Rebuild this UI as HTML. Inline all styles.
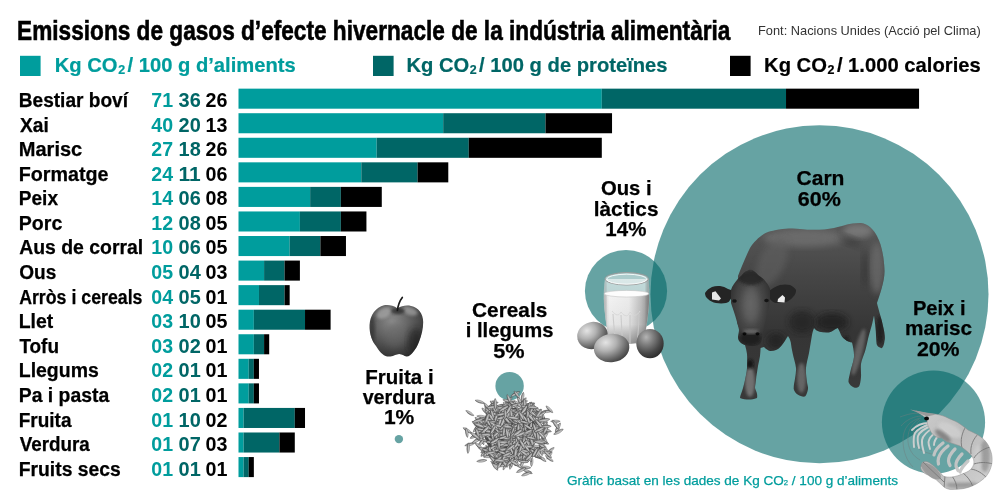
<!DOCTYPE html>
<html lang="ca"><head><meta charset="utf-8"><title>Emissions de gasos d’efecte hivernacle</title>
<style>
html,body{margin:0;padding:0;background:#fff}
body{width:1000px;height:500px;overflow:hidden}
svg{display:block}
text{font-family:"Liberation Sans",Arial,Helvetica,sans-serif}
</style></head><body>
<svg width="1000" height="500" viewBox="0 0 1000 500">
<circle cx="819.5" cy="294.3" r="169" fill="#006666" fill-opacity="0.6"/>
<circle cx="626" cy="291" r="41.1" fill="#006666" fill-opacity="0.6"/>
<circle cx="933.5" cy="422.2" r="51.6" fill="#006666" fill-opacity="0.6"/>
<circle cx="509.6" cy="386.1" r="14.2" fill="#006666" fill-opacity="0.6"/>
<circle cx="398.9" cy="439.1" r="4.2" fill="#006666" fill-opacity="0.6"/>
<rect x="20" y="55.8" width="20.6" height="20.2" fill="#009d9d"/>
<rect x="373" y="55.8" width="20.6" height="20.2" fill="#006666"/>
<rect x="730" y="55.8" width="20.6" height="20.2" fill="#000"/>
<text x="151.25" y="107.00" font-size="19.8" font-weight="700" fill="#009d9d" textLength="21.77" lengthAdjust="spacingAndGlyphs">71</text>
<text x="178.60" y="107.00" font-size="19.8" font-weight="700" fill="#006666" textLength="22.19" lengthAdjust="spacingAndGlyphs">36</text>
<text x="205.60" y="107.00" font-size="19.8" font-weight="700" fill="#000" textLength="21.92" lengthAdjust="spacingAndGlyphs">26</text>
<rect x="238.50" y="88.65" width="363.31" height="20.05" fill="#009d9d"/>
<rect x="601.81" y="88.65" width="184.21" height="20.05" fill="#006666"/>
<rect x="786.02" y="88.65" width="133.04" height="20.05" fill="#000"/>
<text x="151.25" y="132.00" font-size="19.8" font-weight="700" fill="#009d9d" textLength="21.77" lengthAdjust="spacingAndGlyphs">40</text>
<text x="178.60" y="132.00" font-size="19.8" font-weight="700" fill="#006666" textLength="22.19" lengthAdjust="spacingAndGlyphs">20</text>
<text x="205.60" y="132.00" font-size="19.8" font-weight="700" fill="#000" textLength="21.92" lengthAdjust="spacingAndGlyphs">13</text>
<rect x="238.50" y="113.21" width="204.68" height="20.05" fill="#009d9d"/>
<rect x="443.18" y="113.21" width="102.34" height="20.05" fill="#006666"/>
<rect x="545.52" y="113.21" width="66.52" height="20.05" fill="#000"/>
<text x="151.25" y="156.00" font-size="19.8" font-weight="700" fill="#009d9d" textLength="21.77" lengthAdjust="spacingAndGlyphs">27</text>
<text x="178.60" y="156.00" font-size="19.8" font-weight="700" fill="#006666" textLength="22.19" lengthAdjust="spacingAndGlyphs">18</text>
<text x="205.60" y="156.00" font-size="19.8" font-weight="700" fill="#000" textLength="21.92" lengthAdjust="spacingAndGlyphs">26</text>
<rect x="238.50" y="137.77" width="138.16" height="20.05" fill="#009d9d"/>
<rect x="376.66" y="137.77" width="92.11" height="20.05" fill="#006666"/>
<rect x="468.76" y="137.77" width="133.04" height="20.05" fill="#000"/>
<text x="151.25" y="181.00" font-size="19.8" font-weight="700" fill="#009d9d" textLength="21.77" lengthAdjust="spacingAndGlyphs">24</text>
<text x="178.60" y="181.00" font-size="19.8" font-weight="700" fill="#006666" textLength="22.19" lengthAdjust="spacingAndGlyphs">11</text>
<text x="205.60" y="181.00" font-size="19.8" font-weight="700" fill="#000" textLength="21.92" lengthAdjust="spacingAndGlyphs">06</text>
<rect x="238.50" y="162.33" width="122.81" height="20.05" fill="#009d9d"/>
<rect x="361.31" y="162.33" width="56.29" height="20.05" fill="#006666"/>
<rect x="417.59" y="162.33" width="30.70" height="20.05" fill="#000"/>
<text x="151.25" y="205.00" font-size="19.8" font-weight="700" fill="#009d9d" textLength="21.77" lengthAdjust="spacingAndGlyphs">14</text>
<text x="178.60" y="205.00" font-size="19.8" font-weight="700" fill="#006666" textLength="22.19" lengthAdjust="spacingAndGlyphs">06</text>
<text x="205.60" y="205.00" font-size="19.8" font-weight="700" fill="#000" textLength="21.92" lengthAdjust="spacingAndGlyphs">08</text>
<rect x="238.50" y="186.89" width="71.64" height="20.05" fill="#009d9d"/>
<rect x="310.14" y="186.89" width="30.70" height="20.05" fill="#006666"/>
<rect x="340.84" y="186.89" width="40.94" height="20.05" fill="#000"/>
<text x="151.25" y="230.00" font-size="19.8" font-weight="700" fill="#009d9d" textLength="21.77" lengthAdjust="spacingAndGlyphs">12</text>
<text x="178.60" y="230.00" font-size="19.8" font-weight="700" fill="#006666" textLength="22.19" lengthAdjust="spacingAndGlyphs">08</text>
<text x="205.60" y="230.00" font-size="19.8" font-weight="700" fill="#000" textLength="21.92" lengthAdjust="spacingAndGlyphs">05</text>
<rect x="238.50" y="211.45" width="61.40" height="20.05" fill="#009d9d"/>
<rect x="299.90" y="211.45" width="40.94" height="20.05" fill="#006666"/>
<rect x="340.84" y="211.45" width="25.59" height="20.05" fill="#000"/>
<text x="151.25" y="254.00" font-size="19.8" font-weight="700" fill="#009d9d" textLength="21.77" lengthAdjust="spacingAndGlyphs">10</text>
<text x="178.60" y="254.00" font-size="19.8" font-weight="700" fill="#006666" textLength="22.19" lengthAdjust="spacingAndGlyphs">06</text>
<text x="205.60" y="254.00" font-size="19.8" font-weight="700" fill="#000" textLength="21.92" lengthAdjust="spacingAndGlyphs">05</text>
<rect x="238.50" y="236.01" width="51.17" height="20.05" fill="#009d9d"/>
<rect x="289.67" y="236.01" width="30.70" height="20.05" fill="#006666"/>
<rect x="320.37" y="236.01" width="25.59" height="20.05" fill="#000"/>
<text x="151.25" y="279.00" font-size="19.8" font-weight="700" fill="#009d9d" textLength="21.77" lengthAdjust="spacingAndGlyphs">05</text>
<text x="178.60" y="279.00" font-size="19.8" font-weight="700" fill="#006666" textLength="22.19" lengthAdjust="spacingAndGlyphs">04</text>
<text x="205.60" y="279.00" font-size="19.8" font-weight="700" fill="#000" textLength="21.92" lengthAdjust="spacingAndGlyphs">03</text>
<rect x="238.50" y="260.57" width="25.59" height="20.05" fill="#009d9d"/>
<rect x="264.08" y="260.57" width="20.47" height="20.05" fill="#006666"/>
<rect x="284.55" y="260.57" width="15.35" height="20.05" fill="#000"/>
<text x="151.25" y="304.00" font-size="19.8" font-weight="700" fill="#009d9d" textLength="21.77" lengthAdjust="spacingAndGlyphs">04</text>
<text x="178.60" y="304.00" font-size="19.8" font-weight="700" fill="#006666" textLength="22.19" lengthAdjust="spacingAndGlyphs">05</text>
<text x="205.60" y="304.00" font-size="19.8" font-weight="700" fill="#000" textLength="21.92" lengthAdjust="spacingAndGlyphs">01</text>
<rect x="238.50" y="285.13" width="20.47" height="20.05" fill="#009d9d"/>
<rect x="258.97" y="285.13" width="25.59" height="20.05" fill="#006666"/>
<rect x="284.55" y="285.13" width="5.12" height="20.05" fill="#000"/>
<text x="151.25" y="328.00" font-size="19.8" font-weight="700" fill="#009d9d" textLength="21.77" lengthAdjust="spacingAndGlyphs">03</text>
<text x="178.60" y="328.00" font-size="19.8" font-weight="700" fill="#006666" textLength="22.19" lengthAdjust="spacingAndGlyphs">10</text>
<text x="205.60" y="328.00" font-size="19.8" font-weight="700" fill="#000" textLength="21.92" lengthAdjust="spacingAndGlyphs">05</text>
<rect x="238.50" y="309.69" width="15.35" height="20.05" fill="#009d9d"/>
<rect x="253.85" y="309.69" width="51.17" height="20.05" fill="#006666"/>
<rect x="305.02" y="309.69" width="25.59" height="20.05" fill="#000"/>
<text x="151.25" y="353.00" font-size="19.8" font-weight="700" fill="#009d9d" textLength="21.77" lengthAdjust="spacingAndGlyphs">03</text>
<text x="178.60" y="353.00" font-size="19.8" font-weight="700" fill="#006666" textLength="22.19" lengthAdjust="spacingAndGlyphs">02</text>
<text x="205.60" y="353.00" font-size="19.8" font-weight="700" fill="#000" textLength="21.92" lengthAdjust="spacingAndGlyphs">01</text>
<rect x="238.50" y="334.25" width="15.35" height="20.05" fill="#009d9d"/>
<rect x="253.85" y="334.25" width="10.23" height="20.05" fill="#006666"/>
<rect x="264.08" y="334.25" width="5.12" height="20.05" fill="#000"/>
<text x="151.25" y="377.00" font-size="19.8" font-weight="700" fill="#009d9d" textLength="21.77" lengthAdjust="spacingAndGlyphs">02</text>
<text x="178.60" y="377.00" font-size="19.8" font-weight="700" fill="#006666" textLength="22.19" lengthAdjust="spacingAndGlyphs">01</text>
<text x="205.60" y="377.00" font-size="19.8" font-weight="700" fill="#000" textLength="21.92" lengthAdjust="spacingAndGlyphs">01</text>
<rect x="238.50" y="358.81" width="10.23" height="20.05" fill="#009d9d"/>
<rect x="248.73" y="358.81" width="5.12" height="20.05" fill="#006666"/>
<rect x="253.85" y="358.81" width="5.12" height="20.05" fill="#000"/>
<text x="151.25" y="402.00" font-size="19.8" font-weight="700" fill="#009d9d" textLength="21.77" lengthAdjust="spacingAndGlyphs">02</text>
<text x="178.60" y="402.00" font-size="19.8" font-weight="700" fill="#006666" textLength="22.19" lengthAdjust="spacingAndGlyphs">01</text>
<text x="205.60" y="402.00" font-size="19.8" font-weight="700" fill="#000" textLength="21.92" lengthAdjust="spacingAndGlyphs">01</text>
<rect x="238.50" y="383.37" width="10.23" height="20.05" fill="#009d9d"/>
<rect x="248.73" y="383.37" width="5.12" height="20.05" fill="#006666"/>
<rect x="253.85" y="383.37" width="5.12" height="20.05" fill="#000"/>
<text x="151.25" y="427.00" font-size="19.8" font-weight="700" fill="#009d9d" textLength="21.77" lengthAdjust="spacingAndGlyphs">01</text>
<text x="178.60" y="427.00" font-size="19.8" font-weight="700" fill="#006666" textLength="22.19" lengthAdjust="spacingAndGlyphs">10</text>
<text x="205.60" y="427.00" font-size="19.8" font-weight="700" fill="#000" textLength="21.92" lengthAdjust="spacingAndGlyphs">02</text>
<rect x="238.50" y="407.93" width="5.12" height="20.05" fill="#009d9d"/>
<rect x="243.62" y="407.93" width="51.17" height="20.05" fill="#006666"/>
<rect x="294.79" y="407.93" width="10.23" height="20.05" fill="#000"/>
<text x="151.25" y="451.00" font-size="19.8" font-weight="700" fill="#009d9d" textLength="21.77" lengthAdjust="spacingAndGlyphs">01</text>
<text x="178.60" y="451.00" font-size="19.8" font-weight="700" fill="#006666" textLength="22.19" lengthAdjust="spacingAndGlyphs">07</text>
<text x="205.60" y="451.00" font-size="19.8" font-weight="700" fill="#000" textLength="21.92" lengthAdjust="spacingAndGlyphs">03</text>
<rect x="238.50" y="432.49" width="5.12" height="20.05" fill="#009d9d"/>
<rect x="243.62" y="432.49" width="35.82" height="20.05" fill="#006666"/>
<rect x="279.44" y="432.49" width="15.35" height="20.05" fill="#000"/>
<text x="151.25" y="476.00" font-size="19.8" font-weight="700" fill="#009d9d" textLength="21.77" lengthAdjust="spacingAndGlyphs">01</text>
<text x="178.60" y="476.00" font-size="19.8" font-weight="700" fill="#006666" textLength="22.19" lengthAdjust="spacingAndGlyphs">01</text>
<text x="205.60" y="476.00" font-size="19.8" font-weight="700" fill="#000" textLength="21.92" lengthAdjust="spacingAndGlyphs">01</text>
<rect x="238.50" y="457.05" width="5.12" height="20.05" fill="#009d9d"/>
<rect x="243.62" y="457.05" width="5.12" height="20.05" fill="#006666"/>
<rect x="248.73" y="457.05" width="5.12" height="20.05" fill="#000"/>
<defs>
<linearGradient id="cowg" x1="0" y1="0" x2="0" y2="1"><stop offset="0" stop-color="#585858"/><stop offset=".3" stop-color="#464646"/><stop offset=".62" stop-color="#353535"/><stop offset="1" stop-color="#393939"/></linearGradient>
<radialGradient id="faceg" cx=".5" cy=".45" r=".6"><stop offset="0" stop-color="#5e5e5e"/><stop offset=".6" stop-color="#434343"/><stop offset="1" stop-color="#2c2c2c"/></radialGradient>
<filter id="bl3" x="-20%" y="-20%" width="140%" height="140%"><feGaussianBlur stdDeviation="3"/></filter>
<filter id="bl05" x="-50%" y="-50%" width="200%" height="200%"><feGaussianBlur stdDeviation=".6"/></filter>
<filter id="bl15" x="-20%" y="-20%" width="140%" height="140%"><feGaussianBlur stdDeviation="1.5"/></filter>
<clipPath id="cowclip"><path id="cowbody" d="M738,276C741,268 746,256 750,248C754,241 762,234 768,232C776,229.5 790,227.5 800,229C812,230.5 824,230 834,228C842,226 852,222.5 861,223C868,223.5 874,230 877,236C881,243 884,256 884.5,270C885,280 880,294 877,303C878,308 882,320 883,326C884.5,332 885.5,338 884.5,341C884,346 882,349 881,348C878.5,347 877,346 876.6,344C876,338 876,332 875.5,328C875,324 874.5,319 874,315.5L872,324.5C870.5,330 869,335 868,339C867,344 866,348 865,351.5C863.5,356 861.5,360 861,364C860.5,368 861.3,373 861,377C860.7,381 860,385 859,386.5C857.5,388 855.5,388 854,387.6C851.5,386.5 849,384 848.5,382C848.3,379 849.5,376 850,373C851,368 853.5,362 854,357C854.3,352 853,347 852,342.5C850,342 848,341.5 846.7,340.7C844,339 842,337 841,335C840,332 838.5,329 837.7,328C836,328.5 835,329.5 834,330C832,331.5 830,332.4 828.6,332.4C825,332.6 822,332.3 819.6,331.7C817,331 815,329.5 814,328C813,330 812.5,333 812,335C811,341 810,347 809,353C808,358 806.5,363 806,368C805.7,373 806.5,378 807,382C807.3,384.5 808.3,387 808,389C807.5,392 806.5,395 805,396.6C802.5,397 800,396 798,394.8C796,393.5 794,391 793.7,389C793.5,385.5 794.5,382 795,378.5C795.5,375 796.3,371.5 796,368C795.5,363 793.5,358 792.6,353C791.8,349.5 791.2,346 790.8,342.6C790,339 789,337.5 788,336C786,339 784,342.5 782,345C780,347.5 778,349.5 776,350C774,350.8 772,351.2 770,351C768,350.5 766,349 764,347L760.6,348C760.5,350.5 760.3,353 760,356C759.5,359.5 758.5,363 758,366C757.3,371 756.3,376 756,380C755.7,383 755,386 755,388C755.5,390 756.8,392 757,394C757.3,395.5 757.3,397 757,398C754,399.3 751.5,399.6 749,399.6C746,399.6 742.5,399 740,398C740,396.5 740.5,395.2 741,394C741.7,392 742.5,390 743,388C743.7,385.5 744.5,382.5 745,380C745.8,376 746.8,372 747,368C747.2,363 747.3,358 747,354C746.7,351 745.8,348 745,345L737,322Z"/></clipPath>
<clipPath id="headclip"><path id="cowhead" d="M731,290C732,286 735,282.5 737,280C739,277.5 741,276 742,275C744,272.5 745.5,271 747,271C749,269.5 750.5,269.5 752,270C754.5,271 756.5,273 758,275C761,277 764,279 766,282C768,284.5 769.5,287 770,289L770,299C769.5,305 768,311 766.5,317C765,323 763,331 762,338C761.5,341 761,343 760,344C758,345.5 756,346 754,346C751,346.3 748,346 745,345C743,344.3 741,343.2 740,342C738.5,340.5 737.8,338.5 738,337C738.2,334.5 739,332 739,330C738.5,327 737.5,324.5 737,322C736,318.5 735,315 734,312C733,309 732,306 731,303Z"/></clipPath>
</defs>
<g id="cow">
<use href="#cowbody" fill="url(#cowg)"/>
<g clip-path="url(#cowclip)">
<ellipse cx="805" cy="238" rx="42" ry="9" fill="#7a7a7a" opacity=".6" filter="url(#bl3)"/>
<ellipse cx="858" cy="231" rx="15" ry="7" fill="#8a8a8a" opacity=".65" filter="url(#bl3)"/>
<ellipse cx="877" cy="268" rx="7" ry="26" fill="#707070" opacity=".7" filter="url(#bl3)"/>
<ellipse cx="772" cy="262" rx="13" ry="26" fill="#626262" opacity=".6" filter="url(#bl3)" transform="rotate(25 772 262)"/>
<ellipse cx="850" cy="241" rx="12" ry="5" fill="#2e2e2e" opacity=".35" filter="url(#bl3)" transform="rotate(20 850 240)"/>
<ellipse cx="865" cy="268" rx="3.500" ry="18" fill="#262626" opacity=".35" filter="url(#bl3)"/>
<ellipse cx="832" cy="322" rx="16" ry="9" fill="#1c1c1c" opacity=".75" filter="url(#bl3)"/>
<ellipse cx="802" cy="322" rx="13" ry="11" fill="#202020" opacity=".7" filter="url(#bl3)"/>
<ellipse cx="846" cy="345" rx="4" ry="10" fill="#1a1a1a" opacity=".7" filter="url(#bl15)"/>
<ellipse cx="858.500" cy="352" rx="4" ry="24" fill="#777" opacity=".7" filter="url(#bl15)" transform="rotate(14 858.500 352)"/>
<ellipse cx="801.500" cy="378" rx="4.500" ry="15" fill="#757575" opacity=".75" filter="url(#bl15)"/>
<ellipse cx="750" cy="382" rx="5" ry="15" fill="#7c7c7c" opacity=".85" filter="url(#bl15)"/>
<ellipse cx="750" cy="364" rx="3.500" ry="4.500" fill="#111" opacity=".8" filter="url(#bl15)"/>
<ellipse cx="776" cy="341" rx="9" ry="8" fill="#1e1e1e" opacity=".65" filter="url(#bl3)"/>
<ellipse cx="880" cy="330" rx="3.500" ry="14" fill="#1a1a1a" opacity=".8" filter="url(#bl15)"/>
</g>
<path d="M731,290C730,289.5 729,289.3 728,289C725.5,287.5 723,286.3 720,286C717,285.8 714.5,286 712,287C709,288.3 706.5,290.5 705,293C705,295.5 706,297.5 708,299C710,301 713,302.5 716,303C719.5,303.5 723,303.5 726,303C728,302.5 729.5,301.5 730,300L733,296Z" fill="#242424"/>
<path d="M769,291C773,288 776.500,286 780,285C783.500,284.300 787,284.300 790,285C792.500,286 795,288 796,290C796.300,292.500 795,295 793,297C791,299.500 788.500,301 786,302C783,303 779.500,303.300 776,303C773.500,302.500 771.500,301 769,298Z" fill="#262626"/>
<path d="M712,292.500L715.500,291.200L721,298.500L719,300.500L712,299.500Z" fill="#e6e6e6"/>
<path d="M778,299L782.500,295L785,297.500L784.500,302.500L777.500,302Z" fill="#ededed"/>
<use href="#cowhead" fill="url(#faceg)"/>
<g clip-path="url(#headclip)">
<ellipse cx="751" cy="305" rx="8" ry="18" fill="#6a6a6a" opacity=".55" filter="url(#bl3)"/>
<ellipse cx="751" cy="278" rx="13" ry="7" fill="#222" opacity=".75" filter="url(#bl15)"/>
<ellipse cx="750.500" cy="338" rx="11" ry="7.500" fill="#1d1d1d" opacity=".85" filter="url(#bl15)"/>
<ellipse cx="751" cy="331.500" rx="8" ry="2.500" fill="#777" opacity=".8" filter="url(#bl15)"/>
<ellipse cx="744.500" cy="333.800" rx="2" ry="1.600" fill="#000" opacity=".8" filter="url(#bl05)"/>
<ellipse cx="757.500" cy="333.800" rx="2" ry="1.600" fill="#000" opacity=".8" filter="url(#bl05)"/>
<ellipse cx="734.500" cy="301" rx="2.200" ry="1.800" fill="#0c0c0c" opacity=".85" filter="url(#bl05)"/>
<ellipse cx="766.500" cy="300.500" rx="2.200" ry="1.800" fill="#0c0c0c" opacity=".85" filter="url(#bl05)"/>
</g>
</g>
<defs>
<radialGradient id="appleg" cx=".42" cy=".32" r=".75"><stop offset="0" stop-color="#8c8c8c"/><stop offset=".45" stop-color="#606060"/><stop offset=".85" stop-color="#3a3a3a"/><stop offset="1" stop-color="#2a2a2a"/></radialGradient>
<clipPath id="appleclip"><path id="applep" d="M397.6,308.4C393,305 388,304.5 384,305.2C376,307 370,315 369.6,325C369.3,334 372,341 376,346C378.5,350 380.5,352.5 382.4,354C385,356.5 388,356.8 390.4,356.4C394,356 396.5,354.2 399.2,354C402,354.2 404,356 406.4,356.4C409,356.6 411,354.5 412.8,352.4C415.5,349.5 417.5,345.5 419.2,341.2C421.5,335.5 423.2,329 423.2,322C423.2,314 418.5,307.5 411,306C406,305 401.5,306 397.6,308.4Z"/></clipPath>
</defs>
<g id="apple">
<use href="#applep" fill="url(#appleg)"/>
<g clip-path="url(#appleclip)">
<ellipse cx="384" cy="313" rx="8" ry="5" fill="#aaa" opacity=".7" filter="url(#bl15)" transform="rotate(-30 384 313)"/>
<ellipse cx="410" cy="311" rx="8" ry="4" fill="#a5a5a5" opacity=".7" filter="url(#bl15)" transform="rotate(20 410 311)"/>
<ellipse cx="398" cy="311" rx="7" ry="3" fill="#222" opacity=".7" filter="url(#bl15)"/>
<ellipse cx="416" cy="342" rx="8" ry="14" fill="#1e1e1e" opacity=".6" filter="url(#bl3)"/>
<ellipse cx="372" cy="330" rx="3" ry="14" fill="#2a2a2a" opacity=".6" filter="url(#bl15)"/>
<ellipse cx="395" cy="335" rx="10" ry="12" fill="#666" opacity=".45" filter="url(#bl3)"/>
</g>
<path d="M397.400,310.500C398,305.500 399.500,301 402.300,297.400" fill="none" stroke="#1a1a1a" stroke-width="1.700" stroke-linecap="round"/>
</g>
<defs>
<radialGradient id="eggg" cx=".36" cy=".28" r=".85"><stop offset="0" stop-color="#e4e4e4"/><stop offset=".35" stop-color="#b2b2b2"/><stop offset=".7" stop-color="#686868"/><stop offset="1" stop-color="#2c2c2c"/></radialGradient>
<radialGradient id="eggd" cx=".36" cy=".28" r=".85"><stop offset="0" stop-color="#b4b4b4"/><stop offset=".3" stop-color="#808080"/><stop offset=".65" stop-color="#484848"/><stop offset="1" stop-color="#1e1e1e"/></radialGradient>
<linearGradient id="milkg" x1="0" y1="0" x2="1" y2="0"><stop offset="0" stop-color="#d6d6d6"/><stop offset=".12" stop-color="#fafafa"/><stop offset=".55" stop-color="#f3f3f3"/><stop offset=".82" stop-color="#c6c6c6"/><stop offset="1" stop-color="#939393"/></linearGradient>
<linearGradient id="milkv" x1="0" y1="0" x2="0" y2="1"><stop offset="0" stop-color="#000" stop-opacity="0"/><stop offset=".7" stop-color="#000" stop-opacity=".08"/><stop offset="1" stop-color="#000" stop-opacity=".38"/></linearGradient>
<clipPath id="glclip"><path id="glp" d="M605,279C604,286 603.600,293 603.800,300C604.300,312 606.500,328 609,341.500C613,344.800 640,344.800 644,341.500C646.500,328 648.800,312 649.300,300C649.500,293 649.200,286 648.500,279Z"/></clipPath>
</defs>
<g id="dairy">
<use href="#glp" fill="#fff" fill-opacity=".6"/>
<path d="M604.400,293.500C604.100,296 603.900,298 604,300C604.500,312 606.700,328 609.200,341C613,344.200 640,344.200 643.800,341C646.300,328 648.600,312 649.100,300C649.200,298 649.100,296 648.800,293.500C640,297 613,297 604.400,293.500Z" fill="url(#milkg)"/>
<use href="#glp" fill="url(#milkv)"/>
<g clip-path="url(#glclip)">
<g stroke="#c9c9c9" stroke-width="1.100" opacity=".9" fill="none">
<path d="M613,314C613.500,322 614.500,334 616,343"/><path d="M621,315L622.500,344"/><path d="M630,315L630,344"/><path d="M639,314C638.800,322 638.200,334 637,343"/>
</g>
<path d="M612,311C616,316 619,316 621,312M621,312C625,317 628,317 630,312M630,312C634,317 637,316 640,311" stroke="#d6d6d6" stroke-width=".9" fill="none"/>
<rect x="603" y="272" width="3.200" height="72" fill="#8a8a8a" opacity=".45" filter="url(#bl15)"/>
<rect x="646.500" y="272" width="3.500" height="72" fill="#6a6a6a" opacity=".5" filter="url(#bl15)"/>
</g>
<ellipse cx="626.500" cy="293.700" rx="22.200" ry="3.300" fill="#fdfdfd" stroke="#c4c4c4" stroke-width=".6"/>
<ellipse cx="626.700" cy="278.800" rx="21.700" ry="6.200" fill="#f2f6f6" fill-opacity=".5" stroke="#9a9a9a" stroke-width="1"/>
<ellipse cx="626.700" cy="279.200" rx="20" ry="5" fill="none" stroke="#fff" stroke-width=".9" opacity=".95"/>
<!-- eggs -->
<ellipse cx="650" cy="343.600" rx="13.700" ry="14.700" fill="url(#eggd)"/>
<ellipse cx="592.500" cy="335.500" rx="15.400" ry="13.500" fill="url(#eggg)" transform="rotate(-14 592.5 335.500)"/>
<ellipse cx="611.600" cy="348" rx="17.800" ry="14.200" fill="url(#eggg)" transform="rotate(-8 611.600 348)"/>
</g>
<defs><linearGradient id="grg" x1="0" y1="0" x2="0" y2="1"><stop offset="0" stop-color="#e6e6e6"/><stop offset=".5" stop-color="#b6b6b6"/><stop offset="1" stop-color="#707070"/></linearGradient><path id="gr" d="M-5.700,0C-3.400,-1.900 3.400,-1.900 5.700,0C3.400,1.900 -3.400,1.900 -5.700,0Z" fill="url(#grg)" stroke="#3a3a3a" stroke-width=".45"/></defs><g id="grains"><ellipse cx="511" cy="432.5" rx="27" ry="25" fill="#4e4e4e"/><use href="#gr" transform="translate(469.7,444.4) rotate(166) scale(0.89)"/><use href="#gr" transform="translate(467.5,430.5) rotate(33) scale(0.90)"/><use href="#gr" transform="translate(479.8,401.7) rotate(17) scale(0.86)"/><use href="#gr" transform="translate(549.5,455.4) rotate(125) scale(0.81)"/><use href="#gr" transform="translate(557.9,427.6) rotate(118) scale(0.92)"/><use href="#gr" transform="translate(531.8,462.0) rotate(95) scale(0.81)"/><use href="#gr" transform="translate(525.7,467.3) rotate(5) scale(0.89)"/><use href="#gr" transform="translate(468.2,448.1) rotate(93) scale(0.93)"/><use href="#gr" transform="translate(466.8,432.6) rotate(82) scale(0.86)"/><use href="#gr" transform="translate(558.5,431.8) rotate(151) scale(0.94)"/><use href="#gr" transform="translate(495.0,466.7) rotate(52) scale(0.81)"/><use href="#gr" transform="translate(515.3,393.9) rotate(152) scale(0.88)"/><use href="#gr" transform="translate(555.4,421.3) rotate(0) scale(0.84)"/><use href="#gr" transform="translate(546.8,411.4) rotate(176) scale(0.88)"/><use href="#gr" transform="translate(550.4,450.6) rotate(140) scale(0.85)"/><use href="#gr" transform="translate(546.0,452.4) rotate(174) scale(0.95)"/><use href="#gr" transform="translate(540.6,457.8) rotate(18) scale(0.81)"/><use href="#gr" transform="translate(522.5,397.3) rotate(101) scale(0.89)"/><use href="#gr" transform="translate(527.4,471.4) rotate(24) scale(0.93)"/><use href="#gr" transform="translate(542.2,458.6) rotate(38) scale(0.85)"/><use href="#gr" transform="translate(555.9,424.8) rotate(55) scale(0.98)"/><use href="#gr" transform="translate(521.2,470.1) rotate(154) scale(0.93)"/><use href="#gr" transform="translate(549.3,458.5) rotate(38) scale(0.85)"/><use href="#gr" transform="translate(516.8,394.7) rotate(53) scale(0.81)"/><use href="#gr" transform="translate(547.7,454.2) rotate(44) scale(0.92)"/><use href="#gr" transform="translate(481.8,460.8) rotate(173) scale(0.90)"/><use href="#gr" transform="translate(469.8,413.1) rotate(33) scale(0.83)"/><use href="#gr" transform="translate(549.4,409.3) rotate(45) scale(0.84)"/><use href="#gr" transform="translate(526.5,473.8) rotate(159) scale(0.92)"/><use href="#gr" transform="translate(503.2,436.4) rotate(7) scale(1.04)"/><use href="#gr" transform="translate(513.1,459.4) rotate(46) scale(1.01)"/><use href="#gr" transform="translate(497.2,423.6) rotate(32) scale(0.99)"/><use href="#gr" transform="translate(524.1,438.1) rotate(101) scale(1.02)"/><use href="#gr" transform="translate(498.7,422.5) rotate(165) scale(0.89)"/><use href="#gr" transform="translate(526.9,434.0) rotate(80) scale(0.86)"/><use href="#gr" transform="translate(519.7,448.6) rotate(103) scale(0.88)"/><use href="#gr" transform="translate(489.3,456.3) rotate(176) scale(0.98)"/><use href="#gr" transform="translate(501.7,410.1) rotate(25) scale(0.86)"/><use href="#gr" transform="translate(544.7,436.0) rotate(126) scale(1.04)"/><use href="#gr" transform="translate(538.0,435.9) rotate(87) scale(1.00)"/><use href="#gr" transform="translate(495.9,462.9) rotate(14) scale(0.96)"/><use href="#gr" transform="translate(508.2,401.2) rotate(133) scale(0.99)"/><use href="#gr" transform="translate(520.1,402.0) rotate(63) scale(0.99)"/><use href="#gr" transform="translate(537.8,414.6) rotate(75) scale(1.01)"/><use href="#gr" transform="translate(527.7,414.6) rotate(112) scale(0.93)"/><use href="#gr" transform="translate(488.0,420.3) rotate(14) scale(0.98)"/><use href="#gr" transform="translate(544.2,431.2) rotate(131) scale(0.93)"/><use href="#gr" transform="translate(508.6,408.7) rotate(79) scale(1.02)"/><use href="#gr" transform="translate(537.0,446.6) rotate(5) scale(0.97)"/><use href="#gr" transform="translate(496.6,434.1) rotate(126) scale(0.95)"/><use href="#gr" transform="translate(485.3,411.5) rotate(46) scale(0.85)"/><use href="#gr" transform="translate(502.1,457.5) rotate(36) scale(0.88)"/><use href="#gr" transform="translate(534.1,418.0) rotate(80) scale(1.03)"/><use href="#gr" transform="translate(498.0,455.6) rotate(36) scale(0.94)"/><use href="#gr" transform="translate(522.7,402.8) rotate(158) scale(0.93)"/><use href="#gr" transform="translate(495.7,424.3) rotate(25) scale(0.95)"/><use href="#gr" transform="translate(527.9,406.7) rotate(128) scale(1.04)"/><use href="#gr" transform="translate(509.0,443.5) rotate(81) scale(0.91)"/><use href="#gr" transform="translate(515.7,451.4) rotate(113) scale(0.95)"/><use href="#gr" transform="translate(498.1,460.0) rotate(177) scale(0.94)"/><use href="#gr" transform="translate(514.8,434.3) rotate(157) scale(0.86)"/><use href="#gr" transform="translate(504.5,409.6) rotate(56) scale(1.01)"/><use href="#gr" transform="translate(521.4,433.7) rotate(82) scale(0.85)"/><use href="#gr" transform="translate(518.1,420.4) rotate(25) scale(0.86)"/><use href="#gr" transform="translate(496.0,417.8) rotate(113) scale(0.98)"/><use href="#gr" transform="translate(523.4,402.0) rotate(123) scale(0.89)"/><use href="#gr" transform="translate(498.8,434.3) rotate(2) scale(0.94)"/><use href="#gr" transform="translate(508.2,421.3) rotate(49) scale(0.92)"/><use href="#gr" transform="translate(503.2,411.4) rotate(111) scale(1.00)"/><use href="#gr" transform="translate(486.6,450.5) rotate(163) scale(0.87)"/><use href="#gr" transform="translate(537.8,421.2) rotate(23) scale(0.94)"/><use href="#gr" transform="translate(487.1,410.1) rotate(68) scale(0.96)"/><use href="#gr" transform="translate(533.7,412.5) rotate(170) scale(0.94)"/><use href="#gr" transform="translate(503.2,422.3) rotate(130) scale(1.01)"/><use href="#gr" transform="translate(492.5,411.3) rotate(38) scale(1.03)"/><use href="#gr" transform="translate(546.2,428.5) rotate(97) scale(1.01)"/><use href="#gr" transform="translate(496.5,461.1) rotate(154) scale(0.92)"/><use href="#gr" transform="translate(529.8,442.5) rotate(99) scale(1.00)"/><use href="#gr" transform="translate(507.1,432.8) rotate(146) scale(0.86)"/><use href="#gr" transform="translate(514.7,421.8) rotate(60) scale(1.01)"/><use href="#gr" transform="translate(518.0,440.4) rotate(93) scale(0.99)"/><use href="#gr" transform="translate(526.3,410.0) rotate(170) scale(0.95)"/><use href="#gr" transform="translate(518.5,430.2) rotate(40) scale(0.96)"/><use href="#gr" transform="translate(503.6,459.2) rotate(115) scale(0.95)"/><use href="#gr" transform="translate(524.9,413.0) rotate(56) scale(0.93)"/><use href="#gr" transform="translate(530.0,406.6) rotate(37) scale(1.02)"/><use href="#gr" transform="translate(534.6,428.1) rotate(103) scale(0.89)"/><use href="#gr" transform="translate(488.1,427.6) rotate(109) scale(0.86)"/><use href="#gr" transform="translate(534.4,428.3) rotate(72) scale(1.01)"/><use href="#gr" transform="translate(489.6,424.2) rotate(124) scale(0.86)"/><use href="#gr" transform="translate(490.8,427.8) rotate(172) scale(1.03)"/><use href="#gr" transform="translate(508.3,453.4) rotate(23) scale(0.94)"/><use href="#gr" transform="translate(524.5,403.7) rotate(86) scale(0.91)"/><use href="#gr" transform="translate(520.6,455.7) rotate(167) scale(0.88)"/><use href="#gr" transform="translate(511.6,429.3) rotate(35) scale(0.90)"/><use href="#gr" transform="translate(504.1,417.2) rotate(64) scale(0.97)"/><use href="#gr" transform="translate(534.4,449.4) rotate(22) scale(0.95)"/><use href="#gr" transform="translate(511.0,444.8) rotate(95) scale(0.94)"/><use href="#gr" transform="translate(496.2,446.1) rotate(95) scale(0.88)"/><use href="#gr" transform="translate(518.7,456.7) rotate(115) scale(0.96)"/><use href="#gr" transform="translate(526.8,412.6) rotate(154) scale(0.90)"/><use href="#gr" transform="translate(509.2,403.1) rotate(162) scale(0.91)"/><use href="#gr" transform="translate(497.4,461.8) rotate(39) scale(1.05)"/><use href="#gr" transform="translate(518.9,426.2) rotate(43) scale(1.00)"/><use href="#gr" transform="translate(510.5,440.4) rotate(150) scale(0.93)"/><use href="#gr" transform="translate(513.5,423.5) rotate(73) scale(0.99)"/><use href="#gr" transform="translate(524.2,433.9) rotate(123) scale(1.03)"/><use href="#gr" transform="translate(520.3,430.8) rotate(91) scale(1.00)"/><use href="#gr" transform="translate(482.5,432.0) rotate(34) scale(0.86)"/><use href="#gr" transform="translate(514.7,435.2) rotate(99) scale(0.95)"/><use href="#gr" transform="translate(501.1,428.2) rotate(33) scale(0.89)"/><use href="#gr" transform="translate(530.2,404.4) rotate(167) scale(0.87)"/><use href="#gr" transform="translate(543.3,444.8) rotate(83) scale(1.00)"/><use href="#gr" transform="translate(500.6,451.0) rotate(93) scale(0.94)"/><use href="#gr" transform="translate(509.0,431.1) rotate(126) scale(1.02)"/><use href="#gr" transform="translate(520.2,451.1) rotate(133) scale(0.93)"/><use href="#gr" transform="translate(515.0,442.8) rotate(92) scale(0.85)"/><use href="#gr" transform="translate(535.6,414.3) rotate(127) scale(1.02)"/><use href="#gr" transform="translate(496.9,418.6) rotate(108) scale(0.95)"/><use href="#gr" transform="translate(542.3,429.3) rotate(46) scale(1.03)"/><use href="#gr" transform="translate(509.9,403.8) rotate(147) scale(0.93)"/><use href="#gr" transform="translate(537.5,413.8) rotate(125) scale(1.00)"/><use href="#gr" transform="translate(513.0,413.4) rotate(130) scale(0.86)"/><use href="#gr" transform="translate(498.7,450.1) rotate(2) scale(0.92)"/><use href="#gr" transform="translate(493.7,413.4) rotate(42) scale(1.04)"/><use href="#gr" transform="translate(501.8,417.7) rotate(119) scale(0.96)"/><use href="#gr" transform="translate(491.4,428.6) rotate(180) scale(0.98)"/><use href="#gr" transform="translate(501.8,405.5) rotate(176) scale(0.85)"/><use href="#gr" transform="translate(488.7,414.1) rotate(46) scale(0.93)"/><use href="#gr" transform="translate(523.4,436.3) rotate(68) scale(0.87)"/><use href="#gr" transform="translate(510.8,464.0) rotate(99) scale(0.95)"/><use href="#gr" transform="translate(535.8,427.7) rotate(179) scale(0.98)"/><use href="#gr" transform="translate(513.7,426.2) rotate(108) scale(1.00)"/><use href="#gr" transform="translate(544.0,441.5) rotate(29) scale(0.94)"/><use href="#gr" transform="translate(522.3,451.4) rotate(110) scale(0.86)"/><use href="#gr" transform="translate(530.8,425.9) rotate(95) scale(0.97)"/><use href="#gr" transform="translate(500.0,444.0) rotate(118) scale(0.96)"/><use href="#gr" transform="translate(504.9,459.1) rotate(53) scale(0.85)"/><use href="#gr" transform="translate(511.2,437.2) rotate(28) scale(1.00)"/><use href="#gr" transform="translate(485.1,452.5) rotate(135) scale(0.86)"/><use href="#gr" transform="translate(545.7,430.2) rotate(13) scale(1.03)"/><use href="#gr" transform="translate(490.4,441.6) rotate(175) scale(0.90)"/><use href="#gr" transform="translate(476.8,427.8) rotate(130) scale(0.94)"/><use href="#gr" transform="translate(542.5,428.6) rotate(109) scale(0.87)"/><use href="#gr" transform="translate(495.3,418.0) rotate(37) scale(0.86)"/><use href="#gr" transform="translate(501.3,430.9) rotate(80) scale(0.98)"/><use href="#gr" transform="translate(495.9,436.5) rotate(105) scale(0.93)"/><use href="#gr" transform="translate(515.2,410.2) rotate(180) scale(1.04)"/><use href="#gr" transform="translate(509.5,418.8) rotate(20) scale(1.03)"/><use href="#gr" transform="translate(516.8,408.0) rotate(65) scale(0.90)"/><use href="#gr" transform="translate(501.0,410.9) rotate(107) scale(0.98)"/><use href="#gr" transform="translate(511.3,420.5) rotate(45) scale(1.05)"/><use href="#gr" transform="translate(539.7,416.9) rotate(7) scale(0.86)"/><use href="#gr" transform="translate(508.2,452.0) rotate(112) scale(0.87)"/><use href="#gr" transform="translate(504.2,430.8) rotate(16) scale(0.99)"/><use href="#gr" transform="translate(485.3,424.6) rotate(67) scale(0.95)"/><use href="#gr" transform="translate(515.5,449.3) rotate(134) scale(1.02)"/><use href="#gr" transform="translate(519.6,436.5) rotate(146) scale(0.97)"/><use href="#gr" transform="translate(512.6,419.7) rotate(76) scale(0.90)"/><use href="#gr" transform="translate(518.1,415.7) rotate(118) scale(1.05)"/><use href="#gr" transform="translate(499.7,453.0) rotate(134) scale(1.03)"/><use href="#gr" transform="translate(493.6,440.4) rotate(17) scale(1.03)"/><use href="#gr" transform="translate(517.8,435.9) rotate(102) scale(0.95)"/><use href="#gr" transform="translate(504.3,417.9) rotate(140) scale(0.87)"/><use href="#gr" transform="translate(517.4,457.8) rotate(15) scale(0.91)"/><use href="#gr" transform="translate(506.5,406.1) rotate(51) scale(0.88)"/><use href="#gr" transform="translate(492.5,453.9) rotate(66) scale(0.87)"/><use href="#gr" transform="translate(504.6,409.6) rotate(165) scale(1.04)"/><use href="#gr" transform="translate(529.5,422.1) rotate(145) scale(0.91)"/><use href="#gr" transform="translate(502.6,449.8) rotate(168) scale(1.03)"/><use href="#gr" transform="translate(511.2,450.3) rotate(66) scale(0.92)"/><use href="#gr" transform="translate(495.1,443.9) rotate(35) scale(0.96)"/><use href="#gr" transform="translate(518.2,410.6) rotate(151) scale(0.96)"/><use href="#gr" transform="translate(524.5,457.8) rotate(159) scale(0.91)"/><use href="#gr" transform="translate(534.6,435.6) rotate(98) scale(0.96)"/><use href="#gr" transform="translate(538.0,427.1) rotate(145) scale(0.86)"/><use href="#gr" transform="translate(481.3,424.1) rotate(15) scale(0.87)"/><use href="#gr" transform="translate(508.3,401.2) rotate(15) scale(0.98)"/><use href="#gr" transform="translate(529.6,454.4) rotate(117) scale(0.90)"/><use href="#gr" transform="translate(516.6,460.4) rotate(94) scale(1.00)"/><use href="#gr" transform="translate(496.5,443.0) rotate(174) scale(0.98)"/><use href="#gr" transform="translate(486.5,433.4) rotate(130) scale(0.99)"/><use href="#gr" transform="translate(528.8,422.7) rotate(149) scale(0.98)"/><use href="#gr" transform="translate(530.1,409.2) rotate(150) scale(1.03)"/><use href="#gr" transform="translate(537.4,425.8) rotate(94) scale(0.99)"/><use href="#gr" transform="translate(517.8,413.9) rotate(76) scale(0.88)"/><use href="#gr" transform="translate(509.0,399.2) rotate(68) scale(0.88)"/><use href="#gr" transform="translate(517.0,451.4) rotate(53) scale(1.04)"/><use href="#gr" transform="translate(527.2,438.4) rotate(21) scale(0.98)"/><use href="#gr" transform="translate(513.0,421.1) rotate(11) scale(0.94)"/><use href="#gr" transform="translate(481.7,416.6) rotate(7) scale(0.87)"/><use href="#gr" transform="translate(516.6,444.4) rotate(42) scale(0.99)"/><use href="#gr" transform="translate(499.2,425.1) rotate(33) scale(0.91)"/><use href="#gr" transform="translate(525.2,457.4) rotate(56) scale(0.96)"/><use href="#gr" transform="translate(520.3,413.1) rotate(47) scale(1.03)"/><use href="#gr" transform="translate(526.9,423.7) rotate(99) scale(1.04)"/><use href="#gr" transform="translate(497.0,433.9) rotate(9) scale(1.04)"/><use href="#gr" transform="translate(517.3,414.9) rotate(95) scale(0.95)"/><use href="#gr" transform="translate(505.5,465.4) rotate(118) scale(0.90)"/><use href="#gr" transform="translate(533.6,433.9) rotate(67) scale(1.01)"/><use href="#gr" transform="translate(505.0,408.6) rotate(28) scale(0.88)"/><use href="#gr" transform="translate(504.2,445.6) rotate(156) scale(0.95)"/><use href="#gr" transform="translate(487.6,407.2) rotate(48) scale(0.96)"/><use href="#gr" transform="translate(528.9,455.6) rotate(0) scale(1.01)"/><use href="#gr" transform="translate(529.1,408.1) rotate(15) scale(0.90)"/><use href="#gr" transform="translate(509.2,424.8) rotate(86) scale(0.94)"/><use href="#gr" transform="translate(535.9,425.9) rotate(154) scale(0.91)"/><use href="#gr" transform="translate(516.1,413.6) rotate(165) scale(0.87)"/><use href="#gr" transform="translate(517.3,421.3) rotate(98) scale(0.96)"/><use href="#gr" transform="translate(528.6,457.5) rotate(56) scale(0.91)"/><use href="#gr" transform="translate(526.3,439.9) rotate(84) scale(0.99)"/><use href="#gr" transform="translate(492.9,453.0) rotate(19) scale(0.93)"/><use href="#gr" transform="translate(476.8,440.3) rotate(149) scale(0.98)"/><use href="#gr" transform="translate(530.6,433.9) rotate(128) scale(0.90)"/><use href="#gr" transform="translate(490.6,424.4) rotate(2) scale(1.05)"/><use href="#gr" transform="translate(515.1,420.5) rotate(111) scale(0.91)"/><use href="#gr" transform="translate(493.5,448.6) rotate(54) scale(0.92)"/><use href="#gr" transform="translate(489.2,448.8) rotate(46) scale(0.89)"/><use href="#gr" transform="translate(508.9,415.8) rotate(170) scale(0.96)"/><use href="#gr" transform="translate(508.0,415.8) rotate(149) scale(0.87)"/><use href="#gr" transform="translate(516.3,438.5) rotate(122) scale(0.99)"/><use href="#gr" transform="translate(519.7,449.7) rotate(151) scale(0.97)"/><use href="#gr" transform="translate(523.1,439.7) rotate(28) scale(0.87)"/><use href="#gr" transform="translate(505.1,436.1) rotate(166) scale(0.94)"/><use href="#gr" transform="translate(483.6,430.6) rotate(138) scale(1.01)"/><use href="#gr" transform="translate(497.3,443.6) rotate(74) scale(0.85)"/><use href="#gr" transform="translate(487.6,448.2) rotate(177) scale(1.01)"/><use href="#gr" transform="translate(496.9,411.7) rotate(3) scale(0.92)"/><use href="#gr" transform="translate(495.9,454.0) rotate(19) scale(0.93)"/><use href="#gr" transform="translate(480.0,430.8) rotate(149) scale(0.97)"/><use href="#gr" transform="translate(527.6,456.3) rotate(163) scale(0.96)"/><use href="#gr" transform="translate(496.9,449.9) rotate(26) scale(0.99)"/><use href="#gr" transform="translate(534.8,430.7) rotate(129) scale(1.02)"/><use href="#gr" transform="translate(522.3,463.1) rotate(113) scale(0.89)"/><use href="#gr" transform="translate(524.0,439.5) rotate(104) scale(0.99)"/><use href="#gr" transform="translate(494.6,460.6) rotate(65) scale(0.94)"/><use href="#gr" transform="translate(536.2,455.7) rotate(24) scale(1.03)"/><use href="#gr" transform="translate(486.8,426.2) rotate(101) scale(0.90)"/><use href="#gr" transform="translate(541.2,414.5) rotate(147) scale(0.97)"/><use href="#gr" transform="translate(533.9,453.2) rotate(52) scale(1.03)"/><use href="#gr" transform="translate(512.5,456.2) rotate(150) scale(0.89)"/><use href="#gr" transform="translate(504.0,430.5) rotate(6) scale(0.89)"/><use href="#gr" transform="translate(545.5,429.9) rotate(119) scale(0.91)"/><use href="#gr" transform="translate(496.8,408.1) rotate(69) scale(0.97)"/><use href="#gr" transform="translate(511.9,430.0) rotate(36) scale(0.94)"/><use href="#gr" transform="translate(523.4,447.0) rotate(103) scale(0.88)"/><use href="#gr" transform="translate(495.4,430.7) rotate(102) scale(0.92)"/><use href="#gr" transform="translate(508.0,429.1) rotate(121) scale(0.88)"/><use href="#gr" transform="translate(536.4,426.3) rotate(85) scale(0.93)"/><use href="#gr" transform="translate(490.6,413.8) rotate(136) scale(1.00)"/><use href="#gr" transform="translate(475.3,435.5) rotate(151) scale(1.02)"/><use href="#gr" transform="translate(493.0,443.3) rotate(102) scale(1.03)"/><use href="#gr" transform="translate(487.2,428.9) rotate(78) scale(1.03)"/><use href="#gr" transform="translate(508.4,437.5) rotate(131) scale(1.03)"/><use href="#gr" transform="translate(508.0,408.3) rotate(135) scale(0.91)"/><use href="#gr" transform="translate(505.2,428.9) rotate(22) scale(0.94)"/><use href="#gr" transform="translate(490.7,432.2) rotate(9) scale(0.99)"/><use href="#gr" transform="translate(496.4,430.2) rotate(55) scale(0.93)"/><use href="#gr" transform="translate(511.6,438.8) rotate(164) scale(1.04)"/><use href="#gr" transform="translate(494.4,406.0) rotate(76) scale(1.01)"/><use href="#gr" transform="translate(516.3,460.0) rotate(102) scale(1.03)"/><use href="#gr" transform="translate(536.4,449.3) rotate(22) scale(0.96)"/><use href="#gr" transform="translate(511.3,432.4) rotate(44) scale(0.91)"/><use href="#gr" transform="translate(508.1,437.9) rotate(161) scale(1.01)"/><use href="#gr" transform="translate(495.8,443.1) rotate(105) scale(0.86)"/><use href="#gr" transform="translate(544.0,438.6) rotate(55) scale(0.95)"/><use href="#gr" transform="translate(543.5,419.2) rotate(85) scale(0.89)"/><use href="#gr" transform="translate(501.4,463.1) rotate(161) scale(0.89)"/><use href="#gr" transform="translate(520.9,417.5) rotate(85) scale(0.88)"/><use href="#gr" transform="translate(537.1,409.6) rotate(36) scale(0.98)"/><use href="#gr" transform="translate(523.0,461.4) rotate(9) scale(0.87)"/><use href="#gr" transform="translate(508.3,416.4) rotate(162) scale(1.02)"/><use href="#gr" transform="translate(508.6,423.1) rotate(125) scale(1.04)"/><use href="#gr" transform="translate(504.0,434.8) rotate(40) scale(0.91)"/><use href="#gr" transform="translate(507.8,420.7) rotate(33) scale(0.90)"/><use href="#gr" transform="translate(495.1,407.6) rotate(67) scale(0.98)"/><use href="#gr" transform="translate(530.4,416.5) rotate(41) scale(0.91)"/><use href="#gr" transform="translate(536.1,420.9) rotate(50) scale(0.98)"/><use href="#gr" transform="translate(541.1,450.3) rotate(79) scale(0.96)"/><use href="#gr" transform="translate(505.8,431.6) rotate(108) scale(0.91)"/><use href="#gr" transform="translate(510.8,461.7) rotate(16) scale(0.91)"/><use href="#gr" transform="translate(511.5,418.5) rotate(50) scale(0.96)"/><use href="#gr" transform="translate(524.1,461.3) rotate(178) scale(0.86)"/><use href="#gr" transform="translate(481.7,439.2) rotate(69) scale(1.04)"/><use href="#gr" transform="translate(498.6,432.5) rotate(100) scale(0.98)"/><use href="#gr" transform="translate(493.3,452.5) rotate(141) scale(0.95)"/><use href="#gr" transform="translate(478.6,431.4) rotate(123) scale(0.95)"/><use href="#gr" transform="translate(522.6,429.1) rotate(140) scale(0.88)"/><use href="#gr" transform="translate(499.6,423.9) rotate(79) scale(1.00)"/><use href="#gr" transform="translate(518.1,404.3) rotate(42) scale(0.95)"/><use href="#gr" transform="translate(515.6,456.0) rotate(90) scale(0.86)"/><use href="#gr" transform="translate(487.0,417.0) rotate(103) scale(1.02)"/><use href="#gr" transform="translate(515.8,441.9) rotate(3) scale(0.95)"/><use href="#gr" transform="translate(491.1,440.6) rotate(47) scale(1.01)"/><use href="#gr" transform="translate(541.4,446.4) rotate(102) scale(0.96)"/><use href="#gr" transform="translate(514.8,419.2) rotate(26) scale(0.91)"/><use href="#gr" transform="translate(527.9,436.8) rotate(112) scale(0.96)"/><use href="#gr" transform="translate(508.6,456.5) rotate(16) scale(1.01)"/><use href="#gr" transform="translate(518.3,445.1) rotate(29) scale(0.99)"/><use href="#gr" transform="translate(526.1,407.3) rotate(11) scale(0.93)"/><use href="#gr" transform="translate(501.8,442.3) rotate(175) scale(0.86)"/><use href="#gr" transform="translate(480.7,434.4) rotate(178) scale(0.88)"/><use href="#gr" transform="translate(482.2,440.2) rotate(7) scale(0.90)"/><use href="#gr" transform="translate(519.3,426.2) rotate(71) scale(0.91)"/><use href="#gr" transform="translate(504.5,435.6) rotate(6) scale(1.05)"/><use href="#gr" transform="translate(513.5,404.9) rotate(41) scale(0.90)"/><use href="#gr" transform="translate(496.9,428.1) rotate(83) scale(1.04)"/><use href="#gr" transform="translate(499.0,445.4) rotate(177) scale(0.97)"/><use href="#gr" transform="translate(530.9,437.2) rotate(117) scale(0.86)"/><use href="#gr" transform="translate(495.1,454.8) rotate(156) scale(0.97)"/><use href="#gr" transform="translate(527.9,418.9) rotate(71) scale(1.02)"/><use href="#gr" transform="translate(488.3,452.0) rotate(39) scale(0.92)"/><use href="#gr" transform="translate(521.1,453.6) rotate(29) scale(0.89)"/><use href="#gr" transform="translate(516.0,452.9) rotate(56) scale(0.94)"/><use href="#gr" transform="translate(539.3,431.4) rotate(155) scale(0.89)"/><use href="#gr" transform="translate(505.7,436.9) rotate(124) scale(0.92)"/><use href="#gr" transform="translate(510.5,435.3) rotate(33) scale(0.90)"/><use href="#gr" transform="translate(484.2,452.4) rotate(129) scale(0.90)"/><use href="#gr" transform="translate(503.8,440.5) rotate(169) scale(0.92)"/><use href="#gr" transform="translate(513.9,405.2) rotate(163) scale(0.85)"/><use href="#gr" transform="translate(502.3,449.2) rotate(15) scale(1.03)"/><use href="#gr" transform="translate(497.1,457.9) rotate(93) scale(0.86)"/><use href="#gr" transform="translate(499.4,441.0) rotate(7) scale(0.88)"/><use href="#gr" transform="translate(507.5,430.3) rotate(56) scale(0.93)"/><use href="#gr" transform="translate(500.9,429.8) rotate(127) scale(0.90)"/><use href="#gr" transform="translate(506.7,406.8) rotate(26) scale(0.89)"/><use href="#gr" transform="translate(505.5,459.2) rotate(73) scale(0.93)"/><use href="#gr" transform="translate(520.5,422.6) rotate(53) scale(0.92)"/><use href="#gr" transform="translate(512.1,437.0) rotate(4) scale(0.98)"/><use href="#gr" transform="translate(482.1,420.7) rotate(176) scale(0.91)"/><use href="#gr" transform="translate(494.6,404.6) rotate(39) scale(0.99)"/><use href="#gr" transform="translate(493.5,404.3) rotate(156) scale(0.90)"/><use href="#gr" transform="translate(505.6,426.9) rotate(77) scale(0.93)"/><use href="#gr" transform="translate(529.5,439.3) rotate(59) scale(0.95)"/><use href="#gr" transform="translate(508.9,443.0) rotate(72) scale(0.95)"/><use href="#gr" transform="translate(525.0,455.0) rotate(43) scale(0.87)"/><use href="#gr" transform="translate(499.5,449.0) rotate(27) scale(0.97)"/><use href="#gr" transform="translate(503.5,410.4) rotate(126) scale(0.85)"/><use href="#gr" transform="translate(496.1,443.8) rotate(11) scale(0.93)"/><use href="#gr" transform="translate(532.9,439.8) rotate(105) scale(0.94)"/><use href="#gr" transform="translate(504.0,445.2) rotate(4) scale(0.92)"/><use href="#gr" transform="translate(530.7,417.7) rotate(47) scale(0.98)"/><use href="#gr" transform="translate(519.8,451.8) rotate(111) scale(1.04)"/><use href="#gr" transform="translate(494.4,450.6) rotate(170) scale(1.00)"/><use href="#gr" transform="translate(492.3,414.6) rotate(74) scale(0.93)"/><use href="#gr" transform="translate(505.8,461.9) rotate(158) scale(0.93)"/><use href="#gr" transform="translate(515.0,430.1) rotate(24) scale(0.95)"/><use href="#gr" transform="translate(504.1,449.1) rotate(176) scale(0.88)"/><use href="#gr" transform="translate(516.1,445.0) rotate(122) scale(0.90)"/><use href="#gr" transform="translate(535.7,432.6) rotate(71) scale(0.90)"/><use href="#gr" transform="translate(483.5,433.5) rotate(99) scale(0.97)"/><use href="#gr" transform="translate(481.2,421.4) rotate(174) scale(0.92)"/><use href="#gr" transform="translate(491.9,458.0) rotate(56) scale(0.99)"/><use href="#gr" transform="translate(501.4,407.5) rotate(174) scale(1.01)"/><use href="#gr" transform="translate(525.4,453.5) rotate(88) scale(0.96)"/><use href="#gr" transform="translate(499.7,443.8) rotate(135) scale(0.96)"/><use href="#gr" transform="translate(512.2,446.6) rotate(58) scale(0.89)"/><use href="#gr" transform="translate(501.1,431.7) rotate(11) scale(0.86)"/><use href="#gr" transform="translate(534.2,448.7) rotate(20) scale(0.94)"/><use href="#gr" transform="translate(514.2,411.4) rotate(29) scale(1.02)"/><use href="#gr" transform="translate(515.0,428.5) rotate(46) scale(0.95)"/><use href="#gr" transform="translate(516.8,414.5) rotate(129) scale(0.90)"/><use href="#gr" transform="translate(507.2,416.1) rotate(60) scale(1.00)"/><use href="#gr" transform="translate(528.6,407.6) rotate(102) scale(0.93)"/><use href="#gr" transform="translate(503.8,408.4) rotate(150) scale(1.01)"/><use href="#gr" transform="translate(524.9,445.5) rotate(120) scale(0.90)"/><use href="#gr" transform="translate(512.0,434.6) rotate(105) scale(1.04)"/><use href="#gr" transform="translate(521.2,430.7) rotate(124) scale(0.93)"/><use href="#gr" transform="translate(497.2,418.6) rotate(168) scale(1.05)"/><use href="#gr" transform="translate(538.8,440.7) rotate(21) scale(0.86)"/><use href="#gr" transform="translate(504.3,459.4) rotate(179) scale(0.87)"/><use href="#gr" transform="translate(509.2,435.6) rotate(98) scale(0.95)"/><use href="#gr" transform="translate(498.8,444.1) rotate(144) scale(1.02)"/><use href="#gr" transform="translate(506.8,450.8) rotate(111) scale(1.00)"/><use href="#gr" transform="translate(530.9,430.3) rotate(125) scale(0.96)"/><use href="#gr" transform="translate(514.4,422.8) rotate(32) scale(0.87)"/><use href="#gr" transform="translate(525.0,426.7) rotate(88) scale(0.87)"/><use href="#gr" transform="translate(509.6,435.1) rotate(102) scale(0.88)"/><use href="#gr" transform="translate(499.6,421.9) rotate(41) scale(0.95)"/><use href="#gr" transform="translate(500.6,443.3) rotate(9) scale(0.86)"/><use href="#gr" transform="translate(524.6,422.4) rotate(14) scale(0.89)"/><use href="#gr" transform="translate(475.3,436.0) rotate(36) scale(1.02)"/><use href="#gr" transform="translate(490.2,434.4) rotate(145) scale(0.93)"/><use href="#gr" transform="translate(534.3,440.7) rotate(118) scale(0.97)"/><use href="#gr" transform="translate(505.1,464.2) rotate(156) scale(1.05)"/><use href="#gr" transform="translate(480.9,443.0) rotate(130) scale(0.89)"/><use href="#gr" transform="translate(522.8,434.4) rotate(21) scale(0.86)"/><use href="#gr" transform="translate(491.9,454.3) rotate(56) scale(0.95)"/><use href="#gr" transform="translate(524.7,433.3) rotate(173) scale(0.85)"/><use href="#gr" transform="translate(479.9,427.5) rotate(143) scale(1.00)"/><use href="#gr" transform="translate(485.7,449.8) rotate(149) scale(1.00)"/><use href="#gr" transform="translate(519.6,431.8) rotate(171) scale(0.93)"/><use href="#gr" transform="translate(506.8,418.9) rotate(164) scale(0.85)"/><use href="#gr" transform="translate(498.3,426.3) rotate(70) scale(0.92)"/><use href="#gr" transform="translate(493.6,408.0) rotate(66) scale(0.98)"/><use href="#gr" transform="translate(501.1,444.6) rotate(163) scale(0.91)"/><use href="#gr" transform="translate(526.2,442.0) rotate(133) scale(0.89)"/><use href="#gr" transform="translate(509.9,409.5) rotate(122) scale(0.89)"/><use href="#gr" transform="translate(519.5,438.7) rotate(63) scale(0.94)"/><use href="#gr" transform="translate(534.5,433.8) rotate(73) scale(0.91)"/><use href="#gr" transform="translate(477.0,425.0) rotate(37) scale(1.03)"/><use href="#gr" transform="translate(498.0,457.9) rotate(20) scale(1.05)"/><use href="#gr" transform="translate(479.2,446.4) rotate(40) scale(0.93)"/><use href="#gr" transform="translate(507.6,421.5) rotate(49) scale(0.99)"/><use href="#gr" transform="translate(527.9,427.1) rotate(33) scale(0.92)"/><use href="#gr" transform="translate(522.0,431.8) rotate(114) scale(0.93)"/><use href="#gr" transform="translate(502.5,422.4) rotate(111) scale(1.03)"/><use href="#gr" transform="translate(527.7,412.8) rotate(91) scale(0.96)"/><use href="#gr" transform="translate(535.3,452.2) rotate(124) scale(0.94)"/><use href="#gr" transform="translate(500.4,415.6) rotate(69) scale(0.90)"/><use href="#gr" transform="translate(490.4,418.5) rotate(93) scale(0.86)"/><use href="#gr" transform="translate(495.8,417.9) rotate(107) scale(0.97)"/><use href="#gr" transform="translate(521.2,428.2) rotate(84) scale(1.05)"/><use href="#gr" transform="translate(509.7,416.2) rotate(133) scale(1.05)"/><use href="#gr" transform="translate(484.1,450.2) rotate(23) scale(1.05)"/><use href="#gr" transform="translate(496.4,433.3) rotate(151) scale(0.98)"/><use href="#gr" transform="translate(540.6,421.1) rotate(144) scale(0.95)"/><use href="#gr" transform="translate(517.6,432.3) rotate(157) scale(0.99)"/><use href="#gr" transform="translate(510.9,461.8) rotate(82) scale(0.96)"/><use href="#gr" transform="translate(519.7,423.4) rotate(50) scale(0.98)"/><use href="#gr" transform="translate(533.4,442.9) rotate(142) scale(0.95)"/><use href="#gr" transform="translate(512.6,461.6) rotate(154) scale(1.00)"/><use href="#gr" transform="translate(478.8,422.9) rotate(143) scale(0.88)"/><use href="#gr" transform="translate(505.2,438.5) rotate(7) scale(0.92)"/><use href="#gr" transform="translate(532.2,410.0) rotate(21) scale(0.89)"/><use href="#gr" transform="translate(486.1,452.0) rotate(111) scale(1.03)"/><use href="#gr" transform="translate(543.1,447.0) rotate(37) scale(0.98)"/><use href="#gr" transform="translate(532.1,413.2) rotate(35) scale(0.98)"/><use href="#gr" transform="translate(508.5,433.6) rotate(61) scale(0.91)"/><use href="#gr" transform="translate(499.8,421.5) rotate(109) scale(0.99)"/><use href="#gr" transform="translate(515.2,441.0) rotate(125) scale(0.94)"/><use href="#gr" transform="translate(517.5,438.9) rotate(169) scale(0.97)"/><use href="#gr" transform="translate(502.8,442.0) rotate(179) scale(0.99)"/><use href="#gr" transform="translate(509.4,414.8) rotate(56) scale(0.93)"/><use href="#gr" transform="translate(527.4,452.5) rotate(76) scale(1.01)"/><use href="#gr" transform="translate(492.4,443.7) rotate(91) scale(1.04)"/><use href="#gr" transform="translate(494.5,454.7) rotate(42) scale(0.97)"/><use href="#gr" transform="translate(503.8,462.6) rotate(52) scale(1.02)"/><use href="#gr" transform="translate(501.2,414.1) rotate(168) scale(0.93)"/><use href="#gr" transform="translate(509.9,408.1) rotate(81) scale(0.86)"/><use href="#gr" transform="translate(496.7,439.9) rotate(79) scale(1.04)"/><use href="#gr" transform="translate(503.3,458.3) rotate(121) scale(0.90)"/><use href="#gr" transform="translate(502.3,437.5) rotate(161) scale(0.90)"/><use href="#gr" transform="translate(494.8,440.7) rotate(148) scale(1.02)"/><use href="#gr" transform="translate(490.2,420.1) rotate(18) scale(1.03)"/><use href="#gr" transform="translate(527.3,441.9) rotate(67) scale(0.99)"/><use href="#gr" transform="translate(502.0,417.4) rotate(162) scale(1.04)"/><use href="#gr" transform="translate(537.8,436.2) rotate(84) scale(0.92)"/><use href="#gr" transform="translate(493.8,436.1) rotate(121) scale(0.97)"/><use href="#gr" transform="translate(545.9,426.4) rotate(179) scale(0.93)"/><use href="#gr" transform="translate(524.1,409.9) rotate(126) scale(1.05)"/><use href="#gr" transform="translate(531.4,440.9) rotate(72) scale(0.98)"/><use href="#gr" transform="translate(518.1,465.1) rotate(38) scale(0.92)"/><use href="#gr" transform="translate(523.6,447.2) rotate(134) scale(0.87)"/><use href="#gr" transform="translate(524.7,454.7) rotate(112) scale(1.00)"/><use href="#gr" transform="translate(510.3,461.9) rotate(132) scale(1.01)"/><use href="#gr" transform="translate(527.4,446.8) rotate(3) scale(1.02)"/><use href="#gr" transform="translate(542.6,421.8) rotate(4) scale(0.92)"/><use href="#gr" transform="translate(487.2,427.4) rotate(20) scale(1.01)"/><use href="#gr" transform="translate(503.5,453.4) rotate(22) scale(0.96)"/><use href="#gr" transform="translate(516.5,437.9) rotate(92) scale(0.91)"/><use href="#gr" transform="translate(513.6,418.6) rotate(75) scale(0.86)"/><use href="#gr" transform="translate(515.4,452.5) rotate(100) scale(0.94)"/><use href="#gr" transform="translate(516.2,425.8) rotate(153) scale(0.88)"/><use href="#gr" transform="translate(534.7,428.3) rotate(73) scale(0.97)"/><use href="#gr" transform="translate(534.1,407.8) rotate(74) scale(0.85)"/><use href="#gr" transform="translate(529.1,456.8) rotate(132) scale(0.99)"/><use href="#gr" transform="translate(524.5,451.3) rotate(5) scale(0.87)"/><use href="#gr" transform="translate(500.0,463.6) rotate(116) scale(1.02)"/><use href="#gr" transform="translate(531.0,438.1) rotate(14) scale(0.90)"/><use href="#gr" transform="translate(537.1,453.0) rotate(59) scale(0.95)"/><use href="#gr" transform="translate(492.0,406.9) rotate(170) scale(0.96)"/><use href="#gr" transform="translate(477.2,432.3) rotate(71) scale(0.91)"/><use href="#gr" transform="translate(510.0,418.1) rotate(66) scale(0.94)"/><use href="#gr" transform="translate(492.1,435.1) rotate(77) scale(0.94)"/><use href="#gr" transform="translate(541.7,441.7) rotate(11) scale(0.96)"/><use href="#gr" transform="translate(491.5,426.9) rotate(40) scale(0.87)"/><use href="#gr" transform="translate(498.8,444.3) rotate(87) scale(0.90)"/><use href="#gr" transform="translate(510.9,411.0) rotate(2) scale(0.93)"/><use href="#gr" transform="translate(512.6,432.2) rotate(107) scale(1.04)"/><use href="#gr" transform="translate(493.6,450.7) rotate(66) scale(0.91)"/><use href="#gr" transform="translate(490.9,417.2) rotate(57) scale(0.95)"/><use href="#gr" transform="translate(480.9,429.6) rotate(10) scale(0.87)"/><use href="#gr" transform="translate(510.8,447.4) rotate(143) scale(0.94)"/><use href="#gr" transform="translate(524.1,417.8) rotate(51) scale(0.99)"/><use href="#gr" transform="translate(541.6,449.5) rotate(150) scale(0.92)"/><use href="#gr" transform="translate(497.9,459.5) rotate(142) scale(0.98)"/><use href="#gr" transform="translate(539.5,442.4) rotate(9) scale(0.97)"/><use href="#gr" transform="translate(478.5,422.2) rotate(115) scale(0.85)"/><use href="#gr" transform="translate(538.7,421.2) rotate(104) scale(0.85)"/><use href="#gr" transform="translate(509.3,413.0) rotate(122) scale(1.05)"/><use href="#gr" transform="translate(517.3,429.1) rotate(141) scale(0.94)"/><use href="#gr" transform="translate(511.2,414.2) rotate(81) scale(0.94)"/><use href="#gr" transform="translate(524.1,443.7) rotate(132) scale(0.86)"/><use href="#gr" transform="translate(535.0,452.4) rotate(120) scale(0.96)"/><use href="#gr" transform="translate(518.3,438.3) rotate(56) scale(1.04)"/><use href="#gr" transform="translate(479.2,420.7) rotate(38) scale(0.93)"/><use href="#gr" transform="translate(479.5,425.7) rotate(22) scale(1.02)"/><use href="#gr" transform="translate(506.9,433.2) rotate(78) scale(0.93)"/><use href="#gr" transform="translate(495.3,404.1) rotate(89) scale(0.99)"/><use href="#gr" transform="translate(487.5,451.1) rotate(19) scale(1.00)"/><use href="#gr" transform="translate(523.9,453.3) rotate(36) scale(0.92)"/><use href="#gr" transform="translate(520.7,447.5) rotate(106) scale(0.95)"/><use href="#gr" transform="translate(491.5,447.8) rotate(152) scale(0.92)"/><use href="#gr" transform="translate(491.2,421.8) rotate(177) scale(0.92)"/><use href="#gr" transform="translate(506.3,419.6) rotate(47) scale(1.00)"/><use href="#gr" transform="translate(497.2,426.0) rotate(12) scale(1.01)"/><use href="#gr" transform="translate(490.0,451.5) rotate(78) scale(0.97)"/><use href="#gr" transform="translate(478.0,420.4) rotate(164) scale(0.94)"/><use href="#gr" transform="translate(496.5,433.6) rotate(136) scale(0.87)"/><use href="#gr" transform="translate(499.7,460.8) rotate(6) scale(0.99)"/><use href="#gr" transform="translate(488.4,422.9) rotate(60) scale(0.88)"/><use href="#gr" transform="translate(540.0,423.9) rotate(145) scale(0.87)"/><use href="#gr" transform="translate(514.0,419.8) rotate(36) scale(0.96)"/><use href="#gr" transform="translate(503.5,426.7) rotate(138) scale(0.97)"/><use href="#gr" transform="translate(538.7,413.7) rotate(124) scale(0.92)"/><use href="#gr" transform="translate(539.0,424.2) rotate(52) scale(1.02)"/><use href="#gr" transform="translate(508.7,418.0) rotate(45) scale(0.85)"/><use href="#gr" transform="translate(496.0,429.2) rotate(53) scale(0.90)"/><use href="#gr" transform="translate(526.6,448.2) rotate(49) scale(0.91)"/><use href="#gr" transform="translate(506.9,454.2) rotate(157) scale(0.88)"/><use href="#gr" transform="translate(531.8,409.0) rotate(110) scale(0.96)"/><use href="#gr" transform="translate(508.5,409.9) rotate(119) scale(1.03)"/><use href="#gr" transform="translate(513.5,418.2) rotate(10) scale(1.04)"/><use href="#gr" transform="translate(490.8,454.4) rotate(42) scale(0.94)"/><use href="#gr" transform="translate(490.7,452.5) rotate(170) scale(0.95)"/><use href="#gr" transform="translate(493.9,425.5) rotate(42) scale(1.04)"/><use href="#gr" transform="translate(537.7,453.1) rotate(118) scale(0.86)"/><use href="#gr" transform="translate(518.1,427.8) rotate(102) scale(0.87)"/><use href="#gr" transform="translate(528.3,431.4) rotate(157) scale(0.86)"/><use href="#gr" transform="translate(507.6,427.0) rotate(5) scale(0.96)"/><use href="#gr" transform="translate(539.3,429.6) rotate(154) scale(1.01)"/><use href="#gr" transform="translate(503.7,431.6) rotate(95) scale(0.89)"/><use href="#gr" transform="translate(492.3,429.6) rotate(90) scale(0.89)"/><use href="#gr" transform="translate(505.2,413.8) rotate(87) scale(0.87)"/><use href="#gr" transform="translate(486.0,434.4) rotate(175) scale(0.96)"/><use href="#gr" transform="translate(522.3,444.4) rotate(60) scale(0.99)"/><use href="#gr" transform="translate(543.9,420.1) rotate(171) scale(1.04)"/><use href="#gr" transform="translate(532.8,407.6) rotate(4) scale(0.95)"/><use href="#gr" transform="translate(487.0,418.2) rotate(110) scale(0.97)"/><use href="#gr" transform="translate(518.2,429.5) rotate(93) scale(1.04)"/><use href="#gr" transform="translate(520.1,434.2) rotate(156) scale(1.04)"/><use href="#gr" transform="translate(515.2,433.1) rotate(149) scale(0.99)"/><use href="#gr" transform="translate(485.5,429.5) rotate(136) scale(1.01)"/><use href="#gr" transform="translate(517.8,432.5) rotate(143) scale(1.05)"/><use href="#gr" transform="translate(521.3,415.9) rotate(60) scale(0.92)"/><use href="#gr" transform="translate(541.5,435.2) rotate(47) scale(0.97)"/><use href="#gr" transform="translate(493.0,429.7) rotate(121) scale(0.94)"/><use href="#gr" transform="translate(514.3,463.3) rotate(32) scale(0.88)"/></g>
<defs>
<linearGradient id="shg" x1="0" y1="0" x2="1" y2="1"><stop offset="0" stop-color="#cdcdcd"/><stop offset=".45" stop-color="#bbb"/><stop offset="1" stop-color="#d2d2d2"/></linearGradient>
<clipPath id="shclip"><path id="shbody" d="M916,411L926,413C931,413.500 936,414 940,415C944,416 947,417.500 950,419C954,420.500 957,422 960,424C963,426 965.500,428 968,430C971.500,432 975,433 978,435C981,437 984,439 986,442C988.500,445 990,448.500 991,452C992,455 992.300,458.500 992,462C991.700,465.500 990.500,469 989,472C987.300,475.200 985,478 982,480C979,482.500 975.500,484.500 972,486C968,487.700 964,488.700 960,489C956.500,489.400 953,489.600 950,489.400C947.500,489 945.500,488.200 944,487L936,479.500C933,478.500 930.500,477 928,475C925.500,474 923.200,472.600 922,471C920.800,469.300 920.500,467.500 921,466C921.500,464 922,462.600 923,462C924.500,461.300 926.300,461.300 928,462C931,463.500 933.500,465.800 936,468C938.500,470.500 941,473 943,476C946,477.200 949,477.300 952,477C955.500,476.500 959,475.500 962,474C965,473 968,471.800 970,470C972.500,467.800 974,465 974,462C974,459 972.300,456.300 970,454C967,451 963.500,448.300 960,446C956,444.500 952,443.200 948,442C945.500,441 943.600,439.700 942,438C939.500,438.500 936.500,437.300 934,435.500C932,434 930.800,432 930,430C928.800,427.500 927.800,425.500 927.500,424L926.600,418.400Z"/></clipPath>
</defs>
<g id="shrimp">
<g fill="none" stroke="#6f7f7f" stroke-width=".55" opacity=".85">
<path d="M921,418C910,420 903,428 903,440C903,452 907,461 913,467"/>
<path d="M919,419C911,424 907,432 908,442C909,450 913,456 920,460"/>
<path d="M924,414C916,412 908,414 900,417"/>
<path d="M922,416C914,416 906,420 901,426"/>
<path d="M920,420C914,426 912,434 914,442C916,448 922,452 932,454"/>
</g>
<g fill="none" stroke="#d2d2d2" stroke-linecap="round" opacity=".95">
<g stroke-width="1.900">
<path d="M930,424C924,426 918,429 915,433C913,437 913.500,442 914,447"/>
<path d="M933,428C928,431 923,435 922,440C921.500,445 923,449 924,453"/>
<path d="M936,432C932,435 929,438 928.500,442C928.500,445 929.500,447 930,449"/>
<path d="M939,435C936,438 934,441 934,445"/><path d="M928,423C922,423 916,426 912,430"/><path d="M931,426C926,428 920,431 918,436C917,440 918,444 919,448"/>
</g>
<g stroke-width="3.200" stroke="#c6c6c6">
<path d="M948,446C944,449 940,453 938.500,458C938,460 938,462 938.500,464"/>
<path d="M955,449C951,453 948.500,457 948.500,461C948.700,463 949.500,464.500 950,465.500"/>
<path d="M962,454C958,458 955.500,462 956,466C956.500,468 957.500,469.500 958,470.500"/>
<path d="M968,461C964,465 961,468 960,472"/><path d="M943,443C939,446 935,450 934,455"/>
</g>
</g>
<use href="#shbody" fill="url(#shg)" stroke="#8c8c8c" stroke-width=".5"/>
<g clip-path="url(#shclip)">
<ellipse cx="950" cy="430" rx="13" ry="6" fill="#d0d0d0" opacity=".8" filter="url(#bl15)" transform="rotate(28 950 430)"/>
<ellipse cx="943" cy="436" rx="10" ry="3.500" fill="#767676" opacity=".8" filter="url(#bl15)" transform="rotate(38 943 436)"/>
<ellipse cx="985" cy="456" rx="5" ry="16" fill="#8c8c8c" opacity=".7" filter="url(#bl15)"/>
<ellipse cx="978" cy="458" rx="4" ry="13" fill="#cfcfcf" opacity=".7" filter="url(#bl15)"/>
<ellipse cx="962" cy="485" rx="16" ry="3.500" fill="#8a8a8a" opacity=".7" filter="url(#bl15)"/>
<ellipse cx="960" cy="480" rx="12" ry="2.500" fill="#cacaca" opacity=".7" filter="url(#bl15)"/>
<g fill="none" stroke="#747474" stroke-width="1" opacity=".85">
<path d="M966,426C962,433 960,440 962,448"/>
<path d="M979,433C973,439 970,446 971,454"/>
<path d="M990,447C983,449 977,453 974,458"/>
<path d="M993,464C986,462 980,462 974,464"/>
<path d="M987,478C982,473 977,470 971,469"/>
<path d="M973,487C971,481 967,476 963,473"/>
<path d="M957,490C957,485 955,480 952,476"/>
<path d="M944,488L945,476"/>
</g>
<path d="M923,462L944,482" stroke="#6a6a6a" stroke-width=".8" fill="none"/>
<path d="M921,467L940,484" stroke="#c9c9c9" stroke-width="1" fill="none" opacity=".7"/>
<ellipse cx="931" cy="471" rx="12" ry="5" fill="#808080" opacity=".55" transform="rotate(38 931 471)"/>
</g>
<path d="M910,409.500L936,414.500L927,416.500Z" fill="#9a9a9a"/>
<ellipse cx="926.600" cy="418.500" rx="2.400" ry="2" fill="#080808"/>
</g>
<text x="17.10" y="40.00" font-size="28.2" font-weight="700" fill="#000" stroke="#000" stroke-width="0.6" textLength="713.35" lengthAdjust="spacingAndGlyphs">Emissions de gasos d’efecte hivernacle de la indústria alimentària</text>
<text x="758.05" y="35.00" font-size="12.8" fill="#333" textLength="222.71" lengthAdjust="spacingAndGlyphs">Font: Nacions Unides (Acció pel Clima)</text>
<text x="54.75" y="72.00" font-size="20.1" font-weight="700" fill="#009d9d" stroke="#009d9d" stroke-width="0.2" textLength="241.01" lengthAdjust="spacingAndGlyphs">Kg CO<tspan font-size="12.4" dy="1.6" dx="0.6">2</tspan><tspan dy="-1.6" dx="2.4">/ 100 g d’aliments</tspan></text>
<text x="406.40" y="72.00" font-size="20.1" font-weight="700" fill="#006666" stroke="#006666" stroke-width="0.2" textLength="261.16" lengthAdjust="spacingAndGlyphs">Kg CO<tspan font-size="12.4" dy="1.6" dx="0.6">2</tspan><tspan dy="-1.6" dx="2.4">/ 100 g de proteïnes</tspan></text>
<text x="764.05" y="72.00" font-size="20.1" font-weight="700" fill="#000" stroke="#000" stroke-width="0.2" textLength="216.71" lengthAdjust="spacingAndGlyphs">Kg CO<tspan font-size="12.4" dy="1.6" dx="0.6">2</tspan><tspan dy="-1.6" dx="2.4">/ 1.000 calories</tspan></text>
<text x="567.00" y="485.00" font-size="13.4" fill="#009d9d" stroke="#009d9d" stroke-width="0.25" textLength="331.00" lengthAdjust="spacingAndGlyphs">Gràfic basat en les dades de Kg CO<tspan font-size="7.6" dy="0.4">2</tspan><tspan dy="-0.4"> / 100 g d’aliments</tspan></text>
<text x="18.75" y="107.00" font-size="20.0" font-weight="700" fill="#000" stroke="#000" stroke-width="0.25" textLength="109.25" lengthAdjust="spacingAndGlyphs">Bestiar boví</text>
<text x="20.00" y="132.00" font-size="20.0" font-weight="700" fill="#000" stroke="#000" stroke-width="0.25" textLength="28.76" lengthAdjust="spacingAndGlyphs">Xai</text>
<text x="18.75" y="156.00" font-size="20.0" font-weight="700" fill="#000" stroke="#000" stroke-width="0.25" textLength="63.52" lengthAdjust="spacingAndGlyphs">Marisc</text>
<text x="18.75" y="181.00" font-size="20.0" font-weight="700" fill="#000" stroke="#000" stroke-width="0.25" textLength="89.77" lengthAdjust="spacingAndGlyphs">Formatge</text>
<text x="18.75" y="205.00" font-size="20.0" font-weight="700" fill="#000" stroke="#000" stroke-width="0.25" textLength="39.26" lengthAdjust="spacingAndGlyphs">Peix</text>
<text x="18.75" y="230.00" font-size="20.0" font-weight="700" fill="#000" stroke="#000" stroke-width="0.25" textLength="43.53" lengthAdjust="spacingAndGlyphs">Porc</text>
<text x="19.15" y="254.00" font-size="20.0" font-weight="700" fill="#000" stroke="#000" stroke-width="0.25" textLength="124.11" lengthAdjust="spacingAndGlyphs">Aus de corral</text>
<text x="19.20" y="279.00" font-size="20.0" font-weight="700" fill="#000" stroke="#000" stroke-width="0.25" textLength="37.06" lengthAdjust="spacingAndGlyphs">Ous</text>
<text x="19.15" y="304.00" font-size="20.0" font-weight="700" fill="#000" stroke="#000" stroke-width="0.25" textLength="123.35" lengthAdjust="spacingAndGlyphs">Arròs i cereals</text>
<text x="18.75" y="328.00" font-size="20.0" font-weight="700" fill="#000" stroke="#000" stroke-width="0.25" textLength="34.51" lengthAdjust="spacingAndGlyphs">Llet</text>
<text x="19.40" y="353.00" font-size="20.0" font-weight="700" fill="#000" stroke="#000" stroke-width="0.25" textLength="39.61" lengthAdjust="spacingAndGlyphs">Tofu</text>
<text x="18.75" y="377.00" font-size="20.0" font-weight="700" fill="#000" stroke="#000" stroke-width="0.25" textLength="80.03" lengthAdjust="spacingAndGlyphs">Llegums</text>
<text x="18.75" y="402.00" font-size="20.0" font-weight="700" fill="#000" stroke="#000" stroke-width="0.25" textLength="90.50" lengthAdjust="spacingAndGlyphs">Pa i pasta</text>
<text x="18.75" y="427.00" font-size="20.0" font-weight="700" fill="#000" stroke="#000" stroke-width="0.25" textLength="52.75" lengthAdjust="spacingAndGlyphs">Fruita</text>
<text x="19.65" y="451.00" font-size="20.0" font-weight="700" fill="#000" stroke="#000" stroke-width="0.25" textLength="70.10" lengthAdjust="spacingAndGlyphs">Verdura</text>
<text x="18.75" y="476.00" font-size="20.0" font-weight="700" fill="#000" stroke="#000" stroke-width="0.25" textLength="102.02" lengthAdjust="spacingAndGlyphs">Fruits secs</text>
<text x="796.55" y="185.00" font-size="21.0" font-weight="700" fill="#000" stroke="#000" stroke-width="0.25" textLength="47.94" lengthAdjust="spacingAndGlyphs">Carn</text>
<text x="797.85" y="206.00" font-size="21.0" font-weight="700" fill="#000" stroke="#000" stroke-width="0.25" textLength="43.00" lengthAdjust="spacingAndGlyphs">60%</text>
<text x="912.90" y="315.00" font-size="21.0" font-weight="700" fill="#000" stroke="#000" stroke-width="0.25" textLength="52.62" lengthAdjust="spacingAndGlyphs">Peix i</text>
<text x="905.10" y="335.00" font-size="21.0" font-weight="700" fill="#000" stroke="#000" stroke-width="0.25" textLength="66.92" lengthAdjust="spacingAndGlyphs">marisc</text>
<text x="916.90" y="356.00" font-size="21.0" font-weight="700" fill="#000" stroke="#000" stroke-width="0.25" textLength="42.65" lengthAdjust="spacingAndGlyphs">20%</text>
<text x="600.90" y="195.00" font-size="21.0" font-weight="700" fill="#000" stroke="#000" stroke-width="0.25" textLength="50.74" lengthAdjust="spacingAndGlyphs">Ous i</text>
<text x="593.80" y="216.00" font-size="21.0" font-weight="700" fill="#000" stroke="#000" stroke-width="0.25" textLength="64.64" lengthAdjust="spacingAndGlyphs">làctics</text>
<text x="605.35" y="236.00" font-size="21.0" font-weight="700" fill="#000" stroke="#000" stroke-width="0.25" textLength="41.02" lengthAdjust="spacingAndGlyphs">14%</text>
<text x="365.30" y="384.00" font-size="21.0" font-weight="700" fill="#000" stroke="#000" stroke-width="0.25" textLength="68.37" lengthAdjust="spacingAndGlyphs">Fruita i</text>
<text x="362.65" y="404.00" font-size="21.0" font-weight="700" fill="#000" stroke="#000" stroke-width="0.25" textLength="72.45" lengthAdjust="spacingAndGlyphs">verdura</text>
<text x="383.90" y="424.00" font-size="21.0" font-weight="700" fill="#000" stroke="#000" stroke-width="0.25" textLength="30.34" lengthAdjust="spacingAndGlyphs">1%</text>
<text x="472.10" y="317.00" font-size="21.0" font-weight="700" fill="#000" stroke="#000" stroke-width="0.25" textLength="75.16" lengthAdjust="spacingAndGlyphs">Cereals</text>
<text x="465.75" y="337.00" font-size="21.0" font-weight="700" fill="#000" stroke="#000" stroke-width="0.25" textLength="87.67" lengthAdjust="spacingAndGlyphs">i llegums</text>
<text x="493.30" y="358.00" font-size="21.0" font-weight="700" fill="#000" stroke="#000" stroke-width="0.25" textLength="31.35" lengthAdjust="spacingAndGlyphs">5%</text>
</svg></body></html>
